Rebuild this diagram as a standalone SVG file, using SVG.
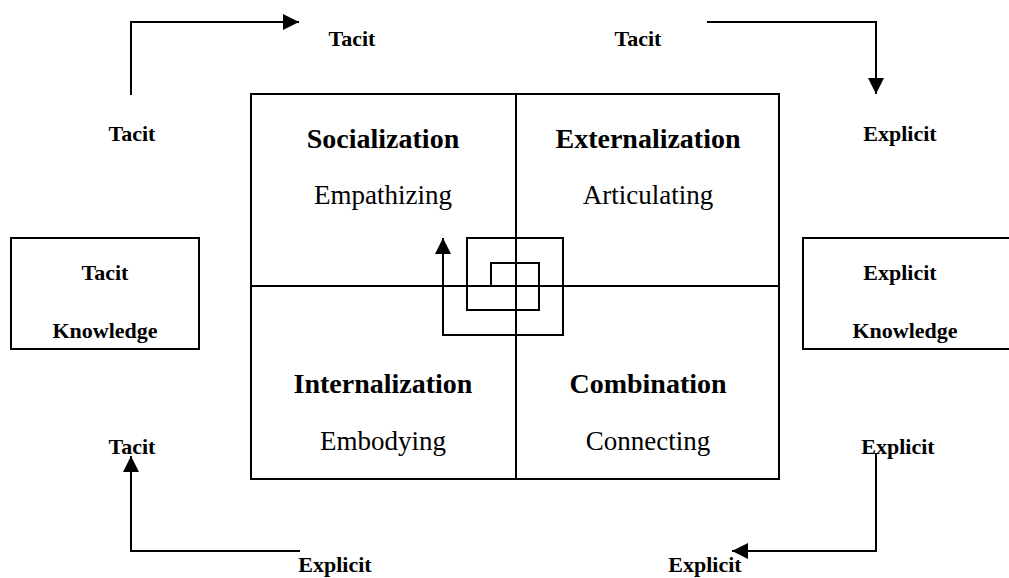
<svg xmlns="http://www.w3.org/2000/svg" width="1009" height="578" viewBox="0 0 1009 578">
<style>
.ln{fill:none;stroke:#000;stroke-width:2}
.lb{font-family:"Liberation Serif","Times New Roman",serif;font-weight:bold;font-size:22px;text-anchor:middle}
.tt{font-family:"Liberation Serif","Times New Roman",serif;font-weight:bold;font-size:28px;text-anchor:middle}
.st{font-family:"Liberation Serif","Times New Roman",serif;font-size:27px;text-anchor:middle}
</style>
<defs>
<marker id="ah" viewBox="0 0 16 16" refX="16" refY="8" markerWidth="16" markerHeight="16" markerUnits="userSpaceOnUse" orient="auto">
<path d="M0,0 L16,8 L0,16 Z" fill="#000"/>
</marker>
</defs>
<rect width="1009" height="578" fill="#fff"/>
<g id="matrix">
<rect class="ln" x="251" y="94" width="528" height="385"/>
<line class="ln" x1="516" y1="94" x2="516" y2="479"/>
<line class="ln" x1="251" y1="286" x2="779" y2="286"/>
</g>
<g id="socialization">
<text class="tt" x="383" y="148">Socialization</text>
<text class="st" x="383" y="204">Empathizing</text>
</g>
<g id="externalization">
<text class="tt" x="648" y="148">Externalization</text>
<text class="st" x="648" y="204">Articulating</text>
</g>
<g id="internalization">
<text class="tt" x="383" y="393">Internalization</text>
<text class="st" x="383" y="450">Embodying</text>
</g>
<g id="combination">
<text class="tt" x="648" y="393">Combination</text>
<text class="st" x="648" y="450">Connecting</text>
</g>
<g id="tacit-knowledge">
<rect class="ln" x="11" y="238" width="188" height="111"/>
<text class="lb" x="105" y="280">Tacit</text>
<text class="lb" x="105" y="338">Knowledge</text>
</g>
<g id="explicit-knowledge">
<path class="ln" d="M1010,238 H803 V349 H1010"/>
<text class="lb" x="900" y="280">Explicit</text>
<text class="lb" x="905" y="338">Knowledge</text>
</g>
<g id="labels">
<text class="lb" x="132" y="141">Tacit</text>
<text class="lb" x="352" y="46">Tacit</text>
<text class="lb" x="638" y="46">Tacit</text>
<text class="lb" x="900" y="141">Explicit</text>
<text class="lb" x="132" y="454">Tacit</text>
<text class="lb" x="898" y="454">Explicit</text>
<text class="lb" x="335" y="572">Explicit</text>
<text class="lb" x="705" y="572">Explicit</text>
</g>
<g id="connectors">
<path class="ln" d="M131,95 V22 H299" marker-end="url(#ah)"/>
<path class="ln" d="M707,22 H876 V94" marker-end="url(#ah)"/>
<path class="ln" d="M876,453 V551 H732" marker-end="url(#ah)"/>
<path class="ln" d="M300,551 H131 V456" marker-end="url(#ah)"/>
<path class="ln" d="M491,286 V263 H539 V310 H467 V238 H563 V335 H443 V238" marker-end="url(#ah)"/>
</g>
</svg>
